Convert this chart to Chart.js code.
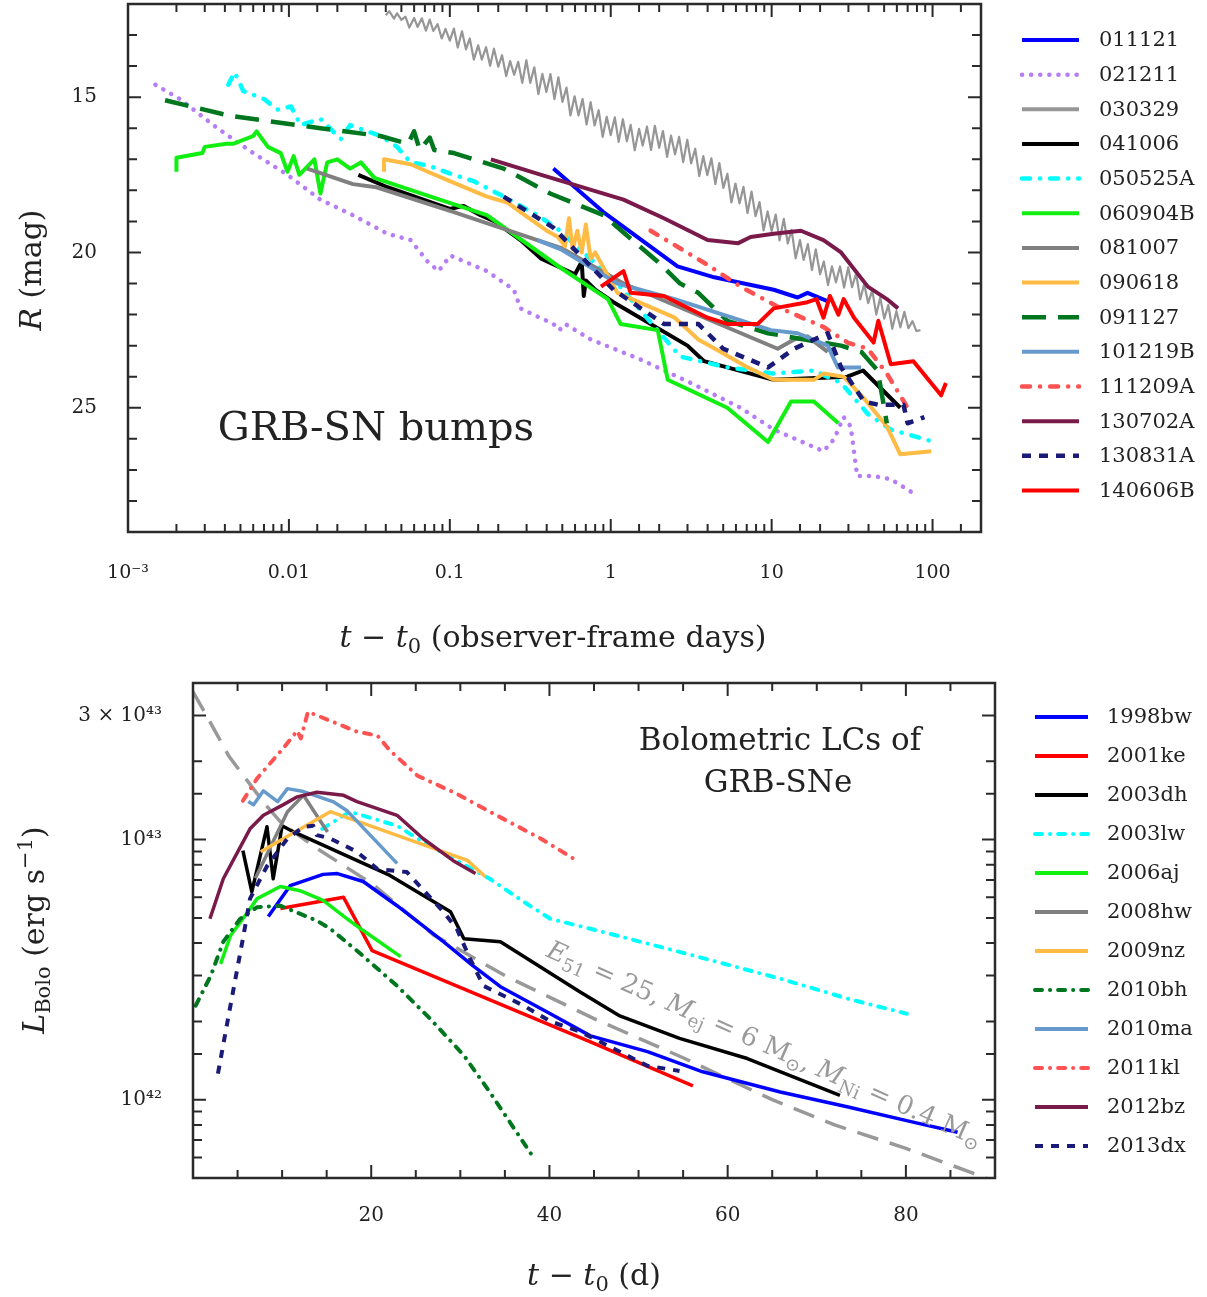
<!DOCTYPE html>
<html>
<head>
<meta charset="utf-8">
<script src="https://cdn.jsdelivr.net/npm/chart.js@4.4.1/dist/chart.umd.min.js"></script>
<style>
  body { margin: 0; background: #fff; }
  #wrap { position: relative; width: 1207px; height: 1297px; }
  canvas { position: absolute; left: 0; }
</style>
</head>
<body>
<div id="wrap">
  <canvas id="bumps" width="1207" height="660" style="top:0"></canvas>
  <canvas id="bolo" width="1207" height="637" style="top:660px"></canvas>
</div>
<script>
// ---- R-band light curves: [days since trigger, R mag] ----
const grb011121 = [[0.44,17.3],[0.9,18.7],[2.6,20.45],[4.4,20.8],[10.3,21.2],[14.5,21.45],[16.7,21.3],[23,21.6]];
const grb021211 = [[0.00148,14.6],[0.0021,15.06],[0.0036,16.0],[0.006,16.8],[0.0098,17.5],[0.0157,18.3],[0.025,18.8],
  [0.041,19.4],[0.057,19.6],[0.073,20.3],[0.085,20.6],[0.101,20.1],[0.17,20.6],[0.25,21.2],[0.275,21.8],[0.33,22.0],
  [0.44,22.3],[0.48,22.5],[0.52,22.3],[0.75,22.8],[1.54,23.45],[3.14,24.2],[6.4,25.0],[10.3,25.7],[21,26.4],[24.5,26.0],
  [28,25.3],[31,25.6],[34,27.2],[43,27.2],[55,27.3],[76,27.75]];
// densely sampled and noisy
const grb030329 = [[0.040,12.36],[0.042,12.23],[0.045,12.47],[0.047,12.30],[0.050,12.51],[0.053,12.41],[0.056,12.76],
  [0.060,12.45],[0.063,12.74],[0.067,12.46],[0.071,12.86],[0.075,12.50],[0.079,12.87],[0.084,12.65],[0.089,13.11],
  [0.094,12.80],[0.100,13.18],[0.106,12.79],[0.112,13.40],[0.119,12.88],[0.126,13.46],[0.133,13.11],[0.141,13.79],
  [0.150,13.33],[0.158,13.79],[0.168,13.39],[0.178,13.99],[0.188,13.44],[0.200,14.02],[0.211,13.65],[0.224,14.32],
  [0.237,13.84],[0.251,14.28],[0.266,13.86],[0.282,14.54],[0.299,13.81],[0.316,14.54],[0.335,14.04],[0.355,14.90],
  [0.376,14.25],[0.398,14.83],[0.422,14.26],[0.447,15.06],[0.473,14.36],[0.501,15.15],[0.531,14.69],[0.562,15.59],
  [0.596,14.97],[0.631,15.59],[0.668,15.06],[0.708,15.88],[0.750,15.16],[0.794,15.91],[0.841,15.42],[0.891,16.28],
  [0.944,15.63],[1.00,16.22],[1.06,15.65],[1.12,16.44],[1.19,15.71],[1.26,16.42],[1.33,15.89],[1.41,16.71],[1.50,16.02],
  [1.58,16.56],[1.68,15.95],[1.78,16.70],[1.88,15.92],[2.00,16.63],[2.11,16.09],[2.24,16.92],[2.37,16.24],[2.51,16.84],
  [2.66,16.28],[2.82,17.09],[2.99,16.37],[3.16,17.13],[3.35,16.66],[3.55,17.54],[3.76,16.90],[3.98,17.51],[4.22,16.97],
  [4.47,17.80],[4.73,17.12],[5.01,17.92],[5.31,17.47],[5.62,18.39],[5.96,17.78],[6.31,18.42],[6.68,17.89],[7.08,18.73],
  [7.50,18.04],[7.94,18.83],[8.41,18.38],[8.91,19.29],[9.44,18.68],[10.0,19.31],[10.6,18.78],[11.2,19.61],[11.9,18.92],
  [12.6,19.71],[13.3,19.27],[14.1,20.19],[15.0,19.60],[15.8,20.24],[16.8,19.73],[17.8,20.57],[18.8,19.90],[20.0,20.70],
  [21.1,20.29],[22.4,21.05],[23.7,20.45],[25.1,20.96],[26.6,20.45],[28.2,21.13],[29.9,20.48],[31.6,21.12],[33.5,20.67],
  [35.5,21.51],[37.6,21.02],[39.8,21.63],[42.2,21.22],[44.7,22.00],[47.3,21.45],[50.1,22.13],[53.1,21.69],[56.2,22.46],
  [59.6,21.89],[63.1,22.41],[66.8,21.91],[70.8,22.44],[75.0,22.21],[79.4,22.53],[84.1,22.50]];
const grb041006 = [[0.027,17.5],[0.041,17.9],[0.1,18.6],[0.122,18.5],[0.155,18.8],[0.19,19.0],[0.275,19.6],[0.37,20.2],
  [0.47,20.45],[0.6,20.7],[0.66,20.3],[0.68,21.4],[0.7,20.9],[0.8,21.2],[1.04,21.6],[3.0,23.0],[3.8,23.5],[10.3,24.1],
  [29.5,24.0],[37,23.8],[63,25.0]];
const grb050525A = [[0.0042,14.6],[0.0046,14.2],[0.0052,14.8],[0.007,15.06],[0.0085,15.4],[0.0103,15.3],[0.0118,15.9],
  [0.0157,15.7],[0.021,16.35],[0.024,15.9],[0.037,16.25],[0.047,16.6],[0.057,17.1],[0.073,17.2],[0.106,17.5],[0.14,17.7],
  [0.216,18.2],[0.35,18.8],[0.47,19.25],[1.1,21.0],[2.7,23.35],[5.3,23.7],[10.3,23.9],[18.3,23.8],[27,24.2],[39.6,25.2],
  [55,25.7],[102,26.1]];
const grb060904B = [[0.002,17.4],[0.002,16.95],[0.0029,16.8],[0.003,16.6],[0.0041,16.5],[0.0045,16.5],[0.006,16.25],
  [0.0063,16.1],[0.0074,16.6],[0.0089,16.8],[0.0098,17.4],[0.0107,16.9],[0.0116,17.5],[0.0144,17.0],[0.0157,18.1],
  [0.0173,17.1],[0.02,17.0],[0.024,17.3],[0.028,17.1],[0.034,17.6],[0.066,18.1],[0.17,18.8],[0.49,20.5],[0.96,21.5],
  [1.15,22.3],[1.96,22.5],[2.26,24.1],[5.3,25.0],[9.5,26.1],[13.2,24.8],[18.3,24.8],[26,25.5]];
const grb081007 = [[0.013,17.3],[0.025,17.8],[0.035,17.9],[0.106,18.7],[0.35,19.6],[0.49,19.85],[1.2,21.0],[10.9,23.1],
  [13.8,22.8],[16.7,22.7],[22.3,23.2]];
const grb090618 = [[0.039,17.4],[0.039,17.0],[0.057,17.16],[0.073,17.4],[0.1,17.7],[0.17,18.2],[0.23,18.4],[0.275,18.7],
  [0.4,19.3],[0.47,19.5],[0.52,19.8],[0.55,18.9],[0.58,19.9],[0.62,19.3],[0.66,20.0],[0.7,19.1],[0.75,20.2],[0.8,20.0],
  [1.1,21.3],[2.5,22.1],[3.5,22.8],[4.8,23.2],[7.1,23.7],[10.3,24.1],[18.3,24.1],[21,23.9],[28,24.0],[37.5,24.7],
  [52,25.6],[63,26.5],[98,26.4]];
const grb091127 = [[0.0017,15.1],[0.0043,15.6],[0.0157,16.0],[0.037,16.25],[0.055,16.5],[0.06,16.1],[0.065,16.7],
  [0.075,16.3],[0.08,16.7],[0.106,16.8],[0.216,17.3],[0.42,18.1],[0.9,18.8],[1.96,20.3],[2.7,21.0],[3.5,21.3],[5.3,22.2],
  [9.5,22.6],[27,23.0],[36,23.2],[45.6,23.8],[52,25.5]];
const grb101219B = [[0.35,19.6],[0.49,19.9],[1.1,21.0],[2.5,21.5],[9.9,22.5],[14.5,22.6],[22.3,23.0],[25.8,23.7],[36,23.7]];
const grb111209A = [[1.77,19.3],[4.0,20.4],[6.4,21.1],[11.4,21.8],[21,22.4],[29.6,22.9],[39.6,23.1],[52,23.9],[70,25.0]];
const grb130702A = [[0.18,17.0],[0.37,17.5],[1.2,18.3],[2.14,18.9],[4.0,19.6],[6.2,19.7],[7.4,19.5],[10.3,19.4],
  [15.2,19.3],[21,19.6],[27,20.0],[39.6,21.1],[52,21.5],[61,21.8]];
const grb130831A = [[0.216,18.2],[0.44,19.2],[1.04,21.2],[2.14,22.3],[3.5,22.3],[5.0,23.1],[9.5,23.7],[13.8,23.1],
  [22.3,22.6],[27,23.7],[37.5,24.8],[45.6,24.9],[66,24.9],[70,25.5],[89,25.3]];
const grb140606B = [[0.87,21.1],[1.2,20.6],[1.33,21.3],[2.14,21.4],[4.0,22.1],[5.3,22.3],[8.2,22.3],[10.3,21.8],
  [16.7,21.6],[19,21.5],[21,22.1],[23,21.4],[26,22.0],[28,21.5],[32.5,22.1],[43,22.9],[46,22.2],[55,23.6],[76,23.5],
  [113,24.6],[121,24.2]];

// ---- bolometric light curves: [days, L in units of 1e42 erg/s] ----
const sn1998bw = [[8.45,5.06],[10.9,6.65],[14.6,7.35],[16.2,7.4],[19.1,6.9],[22.9,5.57],[28.1,4.05],[31.4,3.28],
  [34.5,2.72],[40.1,2.14],[44.6,1.76],[51,1.53],[57.2,1.28],[65.9,1.07],[73.4,0.94],[80.8,0.82],[85.8,0.75]];
const sn2001ke = [[9.8,5.43],[16.9,6.0],[20.1,3.74],[44.6,1.67],[56.1,1.13]];
const sn2003dh = [[5.6,9.07],[6.6,6.3],[8.3,11.2],[9.0,7.07],[10.0,11.3],[11.3,10.7],[22.1,7.28],[28.9,5.28],[30.4,4.16],
  [34.5,4.05],[43.4,2.6],[47.9,2.1],[54.6,1.72],[62.2,1.44],[72.6,1.04]];
const sn2003lw = [[14.5,11.0],[17.6,12.8],[22.9,11.3],[25.8,9.8],[29.6,8.3],[33.3,7.07],[37.1,5.77],[40.1,4.96],
  [44.6,4.54],[54.6,3.7],[65.9,2.92],[73.4,2.45],[80.1,2.14]];
const sn2006aj = [[3.1,3.33],[4.2,4.27],[5.6,4.96],[7.2,5.93],[9.8,6.6],[12.0,6.36],[14.6,5.84],[17.3,4.96],[19.1,4.47],
  [23.3,3.55]];
const sn2008hw = [[7.0,7.1],[10.6,12.8],[12.4,14.8],[15.1,10.7]];
const sn2009nz = [[7.6,8.98],[15.4,12.8],[30.8,8.32],[32.8,7.2]];
const sn2010bh = [[0.3,2.3],[2.0,3.0],[3.4,4.05],[5.3,4.96],[7.2,5.5],[9.8,5.57],[13.9,4.88],[15.4,4.54],[18.4,3.74],
  [22.9,2.74],[26.6,2.05],[30.4,1.48],[33.3,1.07],[35.3,0.845],[38.2,0.6]];
const sn2010ma = [[6.2,14.0],[6.8,13.6],[7.9,15.4],[9.5,14.0],[10.6,15.7],[12.4,15.3],[15.7,14.0],[17.3,12.9],[22.9,8.1]];
const sn2011kl = [[5.6,14.1],[7.2,17.2],[10.1,22.4],[11.7,26.2],[12.1,24.5],[12.9,31.0],[18.4,26.0],[20.7,25.1],
  [22.1,22.0],[25.2,17.6],[29.6,15.0],[33.3,12.8],[39.0,10.1],[42.7,8.45]];
const sn2012bz = [[1.9,4.96],[3.4,7.07],[6.4,11.0],[7.9,12.4],[10.1,13.6],[11.7,14.6],[13.9,15.2],[16.9,14.8],[18.4,14.0],
  [22.9,12.4],[25.8,10.1],[29.2,8.3],[31.7,7.4]];
const sn2013dx = [[2.8,1.26],[4.2,2.3],[5.6,4.16],[6.4,5.93],[8.3,7.9],[10.6,10.1],[12.4,11.2],[13.5,11.3],[13.9,10.4],
  [15.4,10.1],[18.4,8.98],[20.7,7.7],[24.0,7.5],[28.1,5.28],[29.6,4.54],[31.1,3.48],[32.6,2.74],[37.1,2.3],[40.1,2.0],
  [43.4,1.83],[51,1.35],[54.6,1.29]];
// Arnett-type model, E51 = 25, Mej = 6 Msun, MNi = 0.4 Msun
const arnettModel = [[0,37],[2,28],[4,21],[6,17],[8,13.8],[10,11.5],[14,9.2],[20,6.8],[27,4.3],[35,3.0],[45,2.05],
  [55,1.45],[65,1.0],[72,0.8],[80,0.65],[89,0.5]];

// tick labels
const decadeLabels = { '-3': '10⁻³', '-2': '0.01', '-1': '0.1', '0': '1', '1': '10', '2': '100' };
const magLabels = [15, 20, 25];
const dayLabels = [20, 40, 60, 80];
const lumLabels = [[1, '10⁴²'], [10, '10⁴³'], [30, '3 × 10⁴³']];

const SERIF = "'DejaVu Serif', 'Liberation Serif', serif";
const DOT = [0.1, 9];
const DASHDOT = [8, 10, 0.1, 10];

const bumpSeries = [
  ['011121', grb011121, '#0000ff', 4, []],
  ['021211', grb021211, '#b57ef5', 4.5, DOT],
  ['030329', grb030329, '#969696', 2.2, []],
  ['041006', grb041006, '#000000', 4, []],
  ['050525A', grb050525A, '#00ffff', 4.5, DASHDOT],
  ['060904B', grb060904B, '#11ee11', 4, []],
  ['081007', grb081007, '#808080', 4, []],
  ['090618', grb090618, '#ffbb44', 4, []],
  ['091127', grb091127, '#00771e', 4.5, [24, 12]],
  ['101219B', grb101219B, '#6699cc', 4, []],
  ['111209A', grb111209A, '#ff5252', 4.5, DASHDOT],
  ['130702A', grb130702A, '#7a1a4a', 4, []],
  ['130831A', grb130831A, '#1a1a78', 4.5, [9, 8]],
  ['140606B', grb140606B, '#ff0000', 4, []]
];

const boloSeries = [
  ['1998bw', sn1998bw, '#0000ff', 3.5, []],
  ['2001ke', sn2001ke, '#ff0000', 3.5, []],
  ['2003dh', sn2003dh, '#000000', 3.5, []],
  ['2003lw', sn2003lw, '#00ffff', 4, [7, 8, 0.1, 8]],
  ['2006aj', sn2006aj, '#11ee11', 3.5, []],
  ['2008hw', sn2008hw, '#808080', 3.5, []],
  ['2009nz', sn2009nz, '#ffbb44', 3.5, []],
  ['2010bh', sn2010bh, '#00771e', 4, [7, 8, 0.1, 8]],
  ['2010ma', sn2010ma, '#6699cc', 3.5, []],
  ['2011kl', sn2011kl, '#ff5252', 4, [7, 8, 0.1, 8]],
  ['2012bz', sn2012bz, '#7a1a4a', 3.5, []],
  ['2013dx', sn2013dx, '#1a1a78', 4, [8, 8]]
];

function toDataset(s, i, n) {
  const [label, arr, color, width, dash] = s;
  return {
    label,
    data: arr.map(([x, y]) => ({ x, y })),
    borderColor: color,
    backgroundColor: color,
    borderWidth: width,
    borderDash: dash,
    borderCapStyle: (dash.length && dash[0] < 1) || dash.length === 4 ? 'round' : 'butt',
    borderJoinStyle: 'round',
    showLine: true,
    pointRadius: 0,
    fill: false,
    order: n - i
  };
}

// text with italic / sub / sup pieces, centred on (x, y)
function drawRich(ctx, parts, x, y, size, rot, color) {
  ctx.save();
  ctx.translate(x, y);
  if (rot) ctx.rotate(rot);
  ctx.fillStyle = color || '#222';
  ctx.textBaseline = 'alphabetic';
  ctx.textAlign = 'left';
  const fontOf = p => (p[1] && p[1].includes('i') ? 'italic ' : '') +
    (p[1] && (p[1].includes('sub') || p[1].includes('sup')) ? size * 0.7 : size) + 'px ' + SERIF;
  const widths = parts.map(p => { ctx.font = fontOf(p); return ctx.measureText(p[0]).width; });
  let cx = -widths.reduce((a, b) => a + b, 0) / 2;
  parts.forEach((p, i) => {
    ctx.font = fontOf(p);
    const st = p[1] || '';
    const dy = st.includes('sub') ? size * 0.22 : st.includes('sup') ? -size * 0.38 : 0;
    ctx.fillText(p[0], cx, dy + size * 0.35);
    cx += widths[i];
  });
  ctx.restore();
}

// inward ticks on all four sides plus the box
function frameTicks(majorX, majorY) {
  return {
    id: 'frameTicks',
    afterDraw(chart) {
      const { ctx, chartArea: a } = chart;
      ctx.save();
      ctx.strokeStyle = '#2a2a2a';
      ctx.lineWidth = 2;
      chart.scales.x.ticks.forEach(t => {
        const p = chart.scales.x.getPixelForValue(t.value);
        if (p < a.left + 2 || p > a.right - 2) return;
        const len = majorX(t.value) ? 13 : 8;
        ctx.beginPath();
        ctx.moveTo(p, a.bottom); ctx.lineTo(p, a.bottom - len);
        ctx.moveTo(p, a.top); ctx.lineTo(p, a.top + len);
        ctx.stroke();
      });
      chart.scales.y.ticks.forEach(t => {
        const p = chart.scales.y.getPixelForValue(t.value);
        if (p < a.top + 2 || p > a.bottom - 2) return;
        const len = majorY(t.value) ? 13 : 9;
        ctx.beginPath();
        ctx.moveTo(a.left, p); ctx.lineTo(a.left + len, p);
        ctx.moveTo(a.right, p); ctx.lineTo(a.right - len, p);
        ctx.stroke();
      });
      ctx.lineWidth = 2.5;
      ctx.strokeRect(a.left, a.top, a.right - a.left, a.bottom - a.top);
      ctx.restore();
    }
  };
}

function legendPlugin(id, x0, x1, y0, dy, tx, size) {
  return {
    id,
    afterDraw(chart) {
      const ctx = chart.ctx;
      ctx.save();
      let row = 0;
      chart.data.datasets.forEach(ds => {
        if (ds.skipLegend) return;
        const y = y0 + row * dy;
        row++;
        ctx.strokeStyle = ds.borderColor;
        ctx.lineWidth = Math.max(ds.borderWidth, 4);
        ctx.setLineDash(ds.borderDash);
        ctx.lineCap = ds.borderCapStyle;
        ctx.beginPath();
        ctx.moveTo(x0, y); ctx.lineTo(x1, y);
        ctx.stroke();
        ctx.setLineDash([]);
        ctx.fillStyle = '#222';
        ctx.font = size + 'px ' + SERIF;
        ctx.textBaseline = 'middle';
        ctx.fillText(ds.label, tx, y + 1);
      });
      ctx.restore();
    }
  };
}

const baseOptions = {
  animation: false,
  responsive: false,
  events: [],
  plugins: { legend: { display: false }, tooltip: { enabled: false } },
  elements: { line: { tension: 0 }, point: { radius: 0 } }
};

// ---------------- top: GRB-SN bumps ----------------
const isDecade = v => Math.abs(Math.log10(v) - Math.round(Math.log10(v))) < 1e-6;

new Chart(document.getElementById('bumps'), {
  type: 'scatter',
  data: { datasets: bumpSeries.map((s, i) => toDataset(s, i, bumpSeries.length)) },
  options: {
    ...baseOptions,
    layout: { padding: { left: 0, top: 4, right: 226, bottom: 0 } },
    scales: {
      x: {
        type: 'logarithmic', min: 0.001, max: 200,
        grid: { display: false, drawTicks: false }, border: { display: false },
        ticks: {
          autoSkip: false, maxRotation: 0, padding: 30, color: '#222',
          font: { family: SERIF, size: 19 },
          callback: v => isDecade(v) ? (decadeLabels[Math.round(Math.log10(v))] || '') : ''
        },
        afterFit: s => { s.height = 128; s.paddingLeft = 0; s.paddingRight = 0; }
      },
      y: {
        type: 'linear', min: 12, max: 29, reverse: true,
        grid: { display: false, drawTicks: false }, border: { display: false },
        ticks: {
          stepSize: 1, autoSkip: false, padding: 31, color: '#222',
          font: { family: SERIF, size: 20 },
          callback: v => magLabels.includes(v) ? String(v) : ''
        },
        afterFit: s => { s.width = 128; s.paddingTop = 0; s.paddingBottom = 0; }
      }
    }
  },
  plugins: [
    frameTicks(isDecade, v => v % 5 === 0),
    legendPlugin('bumpLegend', 1022, 1079, 40, 34.65, 1099, 21),
    {
      id: 'bumpText',
      afterDraw(chart) {
        const ctx = chart.ctx;
        drawRich(ctx, [['GRB-SN bumps']], 376, 426, 40);
        drawRich(ctx, [['t', 'i'], [' − '], ['t', 'i'], ['0', 'sub'], [' (observer-frame days)']], 553, 636, 30);
        drawRich(ctx, [['R', 'i'], [' (mag)']], 30, 270, 30, -Math.PI / 2);
      }
    }
  ]
});

// ---------------- bottom: bolometric light curves ----------------
const boloSets = boloSeries.map((s, i) => toDataset(s, i, boloSeries.length));
boloSets.unshift({
  label: 'model',
  skipLegend: true,
  data: arnettModel.map(([x, y]) => ({ x, y })),
  borderColor: '#999999',
  borderWidth: 3.5,
  borderDash: [22, 12],
  borderCapStyle: 'butt',
  showLine: true,
  pointRadius: 0,
  fill: false,
  order: 100
});

const isLumMajor = v => lumLabels.some(l => Math.abs(l[0] - v) < 1e-6);

new Chart(document.getElementById('bolo'), {
  type: 'scatter',
  data: { datasets: boloSets },
  options: {
    ...baseOptions,
    layout: { padding: { left: 0, top: 23, right: 212, bottom: 0 } },
    scales: {
      x: {
        type: 'linear', min: 0, max: 90,
        grid: { display: false, drawTicks: false }, border: { display: false },
        ticks: {
          stepSize: 5, autoSkip: false, maxRotation: 0, padding: 26, color: '#222',
          font: { family: SERIF, size: 20 },
          callback: v => dayLabels.includes(v) ? String(v) : ''
        },
        afterFit: s => { s.height = 119; s.paddingLeft = 0; s.paddingRight = 0; }
      },
      y: {
        type: 'logarithmic', min: 0.5, max: 40,
        grid: { display: false, drawTicks: false }, border: { display: false },
        ticks: {
          autoSkip: false, padding: 31, color: '#222',
          font: { family: SERIF, size: 20 },
          callback: v => { const l = lumLabels.find(l => Math.abs(l[0] - v) < 1e-6); return l ? l[1] : ''; }
        },
        afterFit: s => { s.width = 193; s.paddingTop = 0; s.paddingBottom = 0; }
      }
    }
  },
  plugins: [
    frameTicks(v => v % 20 === 0, isLumMajor),
    legendPlugin('boloLegend', 1035, 1088, 57, 39, 1107, 21),
    {
      id: 'boloText',
      afterDraw(chart) {
        const ctx = chart.ctx;
        drawRich(ctx, [['Bolometric LCs of']], 780, 79, 31);
        drawRich(ctx, [['GRB-SNe']], 778, 121, 31);
        drawRich(ctx, [['t', 'i'], [' − '], ['t', 'i'], ['0', 'sub'], [' (d)']], 594, 614, 30);
        drawRich(ctx, [['L', 'i'], ['Bolo', 'sub'], [' (erg s'], ['−1', 'sup'], [')']], 33, 270, 30, -Math.PI / 2);
        drawRich(ctx, [['E', 'i'], ['51', 'sub'], [' = 25, '], ['M', 'i'], ['ej', 'sub'], [' = 6 M'], ['⊙', 'sub'],
          [', '], ['M', 'i'], ['Ni', 'sub'], [' = 0.4 M'], ['⊙', 'sub']], 765, 383, 26, 0.415, '#9a9a9a');
      }
    }
  ]
});
</script>
</body>
</html>
